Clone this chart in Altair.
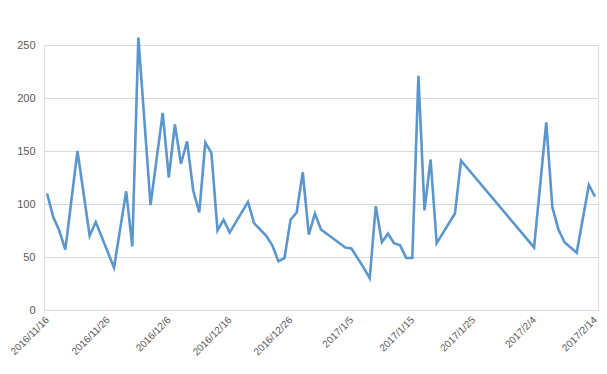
import altair as alt
import pandas as pd

dates = [
    "2016-11-16", "2016-11-17", "2016-11-18", "2016-11-19", "2016-11-21",
    "2016-11-23", "2016-11-24", "2016-11-27", "2016-11-29", "2016-11-30",
    "2016-12-01", "2016-12-03", "2016-12-05", "2016-12-06", "2016-12-07",
    "2016-12-08", "2016-12-09", "2016-12-10", "2016-12-11", "2016-12-12",
    "2016-12-13", "2016-12-14", "2016-12-15", "2016-12-16", "2016-12-19",
    "2016-12-20", "2016-12-22", "2016-12-23", "2016-12-24", "2016-12-25",
    "2016-12-26", "2016-12-27", "2016-12-28", "2016-12-29", "2016-12-30",
    "2016-12-31", "2017-01-04", "2017-01-05", "2017-01-07", "2017-01-08",
    "2017-01-09", "2017-01-10", "2017-01-11", "2017-01-12", "2017-01-13",
    "2017-01-14", "2017-01-15", "2017-01-16", "2017-01-17", "2017-01-18",
    "2017-01-19", "2017-01-22", "2017-01-23", "2017-02-04", "2017-02-06",
    "2017-02-07", "2017-02-08", "2017-02-09", "2017-02-11", "2017-02-13",
    "2017-02-14",
]
values = [
    110, 88, 75, 57, 150,
    70, 83, 40, 112, 60,
    257, 99, 186, 125, 175,
    138, 159, 113, 92, 158,
    148, 75, 85, 73, 102,
    82, 70, 61, 46, 49,
    85, 92, 130, 71, 91,
    76, 59, 58, 40, 30,
    98, 64, 72, 63, 61,
    49, 49, 221, 94, 142,
    63, 91, 141, 59, 177,
    97, 76, 64, 54, 118,
    107,
]
tick_dates = [
    (2016, 11, 16), (2016, 11, 26), (2016, 12, 6), (2016, 12, 16), (2016, 12, 26),
    (2017, 1, 5), (2017, 1, 15), (2017, 1, 25), (2017, 2, 4), (2017, 2, 14),
]
y_ticks = [0, 50, 100, 150, 200, 250]

df = pd.DataFrame({"date": dates, "value": values})

font = "Liberation Sans"
label_color = "#595959"
grid_color = "#d9d9d9"

chart = (
    alt.Chart(df)
    .mark_line(color="#5B96CC", strokeWidth=2.6, strokeJoin="miter", clip=False)
    .encode(
        x=alt.X(
            "date:T",
            title=None,
            scale=alt.Scale(
                type="utc",
                domain=[
                    alt.DateTime(year=2016, month=11, date=15, hours=12, utc=True),
                    alt.DateTime(year=2017, month=2, date=14, hours=12, utc=True),
                ],
                nice=False,
            ),
            axis=alt.Axis(
                values=[alt.DateTime(year=y, month=m, date=d, utc=True) for (y, m, d) in tick_dates],
                labelExpr="utcFormat(datum.value, '%Y/%-m/%-d')",
                labelAngle=-45,
                labelAlign="right",
                labelBaseline="middle",
                labelPadding=8,
                labelFont=font,
                labelFontSize=10,
                labelColor=label_color,
                ticks=False,
                grid=False,
                domainColor=grid_color,
                domainWidth=1,
                labelOverlap=False,
                labelBound=False,
                labelFlush=False,
            ),
        ),
        y=alt.Y(
            "value:Q",
            title=None,
            scale=alt.Scale(domain=[0, 250], nice=False),
            axis=alt.Axis(
                values=y_ticks,
                labelFont=font,
                labelFontSize=11,
                labelColor=label_color,
                labelPadding=9,
                ticks=False,
                domain=False,
                gridColor=grid_color,
                gridWidth=1,
            ),
        ),
    )
    .properties(
        width=554,
        height=265,
        autosize=alt.AutoSizeParams(type="none"),
        padding={"left": 36, "top": 37, "right": 1, "bottom": 50},
    )
    .configure_view(stroke=None)
    .configure(background="white")
)

chart.save("out.html", embed_options={"renderer": "svg", "actions": False})
